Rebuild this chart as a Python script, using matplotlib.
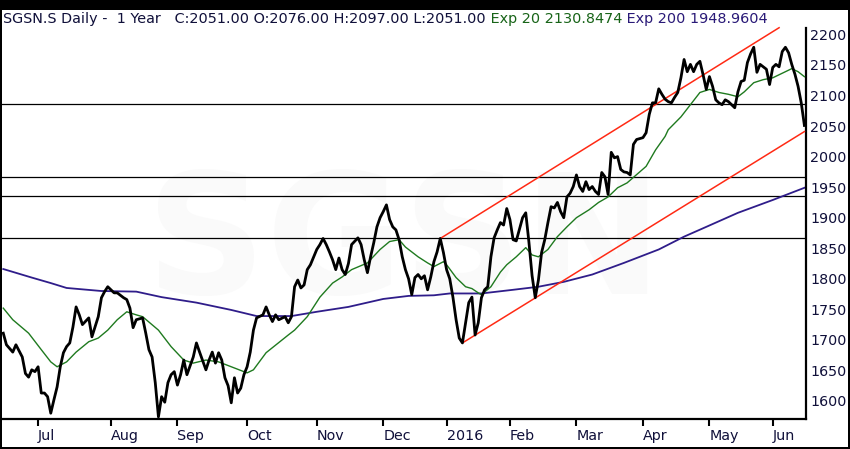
import matplotlib
matplotlib.use("Agg")
import matplotlib.pyplot as plt
import numpy as np
import pandas as pd
from matplotlib.patches import Rectangle

# SIX exchange calendar for the chart year (holidays skipped on the axis)
holidays = ["2015-12-24", "2015-12-25", "2015-12-31", "2016-01-01",
            "2016-03-25", "2016-03-28", "2016-05-05", "2016-05-16"]
sessions = pd.bdate_range("2015-06-16", "2016-06-15")
sessions = sessions[~sessions.isin(pd.to_datetime(holidays))]

# daily close (session number since 16 Jun 2015)
close_session = [0, 1, 3, 4, 6, 7, 8, 9, 10, 11,
                 12, 13, 14, 15, 16, 17, 18, 19, 20, 21,
                 22, 23, 24, 25, 27, 28, 30, 31, 32, 33,
                 35, 36, 38, 39, 40, 41, 42, 44, 45, 46,
                 47, 48, 49, 50, 51, 52, 53, 54, 55, 56,
                 57, 58, 60, 61, 62, 64, 65, 66, 67, 68,
                 69, 70, 71, 72, 73, 74, 75, 76, 77, 78,
                 79, 80, 82, 83, 84, 85, 86, 87, 89, 90,
                 91, 92, 93, 94, 95, 96, 97, 99, 100, 101,
                 102, 103, 104, 105, 106, 107, 108, 109, 110, 112,
                 113, 114, 115, 116, 117, 118, 119, 120, 121, 122,
                 123, 124, 125, 126, 127, 128, 129, 130, 131, 132,
                 133, 134, 135, 136, 137, 138, 139, 140, 141, 142,
                 143, 144, 145, 146, 147, 148, 149, 150, 151, 152,
                 153, 154, 155, 156, 157, 158, 159, 160, 161, 162,
                 164, 165, 166, 167, 168, 169, 170, 171, 172, 173,
                 174, 175, 176, 177, 178, 179, 180, 181, 182, 183,
                 184, 185, 186, 187, 188, 189, 190, 191, 192, 193,
                 194, 195, 196, 197, 198, 199, 200, 202, 203, 204,
                 205, 206, 207, 208, 209, 210, 211, 212, 213, 214,
                 215, 216, 217, 218, 219, 220, 221, 222, 223, 224,
                 225, 226, 227, 228, 229, 231, 232, 233, 234, 235,
                 236, 237, 238, 239, 240, 241, 242, 243, 244, 245,
                 246, 247, 248, 249, 250, 251, 252, 253]
close = [1711, 1692, 1680, 1692, 1672, 1645, 1639, 1651, 1648, 1656,
         1613, 1613, 1607, 1580, 1602, 1623, 1656, 1679, 1689, 1695,
         1721, 1754, 1741, 1725, 1736, 1705, 1738, 1769, 1779, 1787,
         1777, 1777, 1769, 1766, 1752, 1720, 1733, 1736, 1711, 1684,
         1672, 1630, 1574, 1607, 1598, 1630, 1643, 1648, 1626, 1643,
         1667, 1643, 1672, 1695, 1680, 1651, 1667, 1680, 1662, 1679,
         1667, 1638, 1625, 1597, 1638, 1613, 1621, 1643, 1656, 1680,
         1716, 1736, 1741, 1754, 1741, 1730, 1741, 1733, 1738, 1728,
         1738, 1787, 1798, 1785, 1790, 1815, 1823, 1848, 1856, 1866,
         1856, 1844, 1831, 1815, 1834, 1815, 1807, 1825, 1856, 1867,
         1856, 1831, 1810, 1836, 1859, 1885, 1900, 1910, 1921, 1897,
         1885, 1880, 1864, 1836, 1815, 1800, 1774, 1802, 1807, 1800,
         1805, 1782, 1803, 1828, 1844, 1866, 1843, 1815, 1800, 1770,
         1733, 1703, 1695, 1728, 1761, 1770, 1708, 1728, 1769, 1782,
         1787, 1836, 1867, 1880, 1892, 1888, 1915, 1897, 1864, 1862,
         1900, 1908, 1860, 1805, 1769, 1798, 1843, 1864, 1892, 1918,
         1916, 1925, 1910, 1900, 1934, 1940, 1951, 1970, 1951, 1943,
         1959, 1946, 1951, 1943, 1938, 1974, 1967, 1938, 2007, 1998,
         2000, 1979, 1975, 1974, 1970, 2020, 2028, 2031, 2039, 2069,
         2088, 2088, 2111, 2102, 2094, 2090, 2088, 2097, 2105, 2129,
         2159, 2139, 2151, 2139, 2151, 2156, 2134, 2110, 2131, 2115,
         2093, 2088, 2085, 2093, 2090, 2080, 2106, 2123, 2125, 2154,
         2168, 2179, 2138, 2151, 2147, 2143, 2118, 2146, 2151, 2147,
         2172, 2179, 2170, 2151, 2135, 2115, 2088, 2051]

# 20-day exponential average
ema20_session = [0, 3, 8, 12, 15, 17, 20, 23, 27, 30,
                 33, 36, 39, 42, 44, 49, 53, 57, 60, 64,
                 68, 73, 77, 79, 83, 90, 92, 96, 100, 104,
                 107, 110, 115, 119, 122, 125, 127, 131, 134, 136,
                 139, 140, 143, 146, 148, 150, 151, 154, 157, 159,
                 162, 165, 167, 169, 172, 175, 178, 181, 185, 188,
                 191, 194, 197, 199, 203, 206, 209, 210, 214, 217,
                 220, 223, 226, 229, 232, 234, 237, 240, 243, 245,
                 247, 249, 251, 253]
ema20 = [1752, 1733, 1711, 1684, 1664, 1656, 1664, 1680, 1697, 1703,
         1716, 1733, 1746, 1741, 1738, 1716, 1689, 1667, 1662, 1667,
         1664, 1654, 1646, 1651, 1679, 1708, 1716, 1738, 1770, 1793,
         1803, 1815, 1826, 1848, 1861, 1864, 1852, 1836, 1826, 1820,
         1828, 1823, 1802, 1787, 1784, 1777, 1774, 1787, 1811, 1823,
         1836, 1851, 1839, 1836, 1848, 1869, 1885, 1900, 1913, 1925,
         1934, 1949, 1957, 1966, 1984, 2011, 2033, 2044, 2065, 2085,
         2105, 2110, 2105, 2102, 2098, 2106, 2121, 2126, 2129, 2134,
         2139, 2144, 2139, 2130.85]

# 200-day exponential average
ema200_session = [0, 9, 15, 20, 31, 42, 50, 61, 72, 80,
                  91, 99, 109, 120, 128, 136, 141, 151, 161, 169,
                  177, 186, 196, 207, 215, 222, 232, 243, 253]
ema200 = [1816, 1802, 1793, 1785, 1780, 1779, 1770, 1761, 1749, 1739,
          1739, 1746, 1754, 1767, 1772, 1773, 1776, 1776, 1782, 1787,
          1795, 1807, 1826, 1848, 1869, 1885, 1908, 1929, 1948.96]

# rising channel (two parallel trend lines)
channel_top_session = [138, 245]
channel_top = [1866, 2211]
channel_bottom_session = [145, 253]
channel_bottom = [1695, 2041]

# horizontal support / resistance levels
levels = [1867, 1936, 1967, 2086]

y_ticks = list(range(1600, 2201, 50))

title_main = "SGSN.S Daily -  1 Year   C:2051.00 O:2076.00 H:2097.00 L:2051.00"
title_ema20 = " Exp 20 2130.8474"
title_ema200 = " Exp 200 1948.9604"

navy = "#10103a"
green = "#1f7a1f"
purple = "#2f1d8a"
red = "#ff2a14"

fig = plt.figure(figsize=(8.5, 4.49), dpi=100, facecolor="black")
fig.add_artist(Rectangle((2 / 850, 2 / 449), 846 / 850, 437 / 449, transform=fig.transFigure,
                         facecolor="white", edgecolor="none", zorder=0))
ax = fig.add_axes([2 / 850, 30 / 449, 804 / 850, 409 / 449])
ax.set_facecolor("white")

# faint watermark
ax.text(0.5, 0.42, "SGSN", transform=ax.transAxes, ha="center", va="center",
        fontsize=120, fontweight="bold", color="#fafafa", zorder=0)

for lv in levels:
    ax.axhline(lv, color="black", lw=0.9, zorder=1)

ax.plot(ema200_session, ema200, color=purple, lw=1.3, zorder=2)
ax.plot(ema20_session, ema20, color=green, lw=1.0, zorder=3)
ax.plot(channel_top_session, channel_top, color=red, lw=1.1, zorder=4)
ax.plot(channel_bottom_session, channel_bottom, color=red, lw=1.1, zorder=4)
ax.plot(close_session, close, color="black", lw=2.0, zorder=5, solid_joinstyle="round")

ax.set_xlim(-0.4, 253.5)
ax.set_ylim(1570.5, 2240)

# month ticks at the first session of each month
months = sessions.to_period("M")
first = np.where(months[1:] != months[:-1])[0] + 1
month_labels = [str(d.year) if d.month == 1 else d.strftime("%b") for d in sessions[first]]
ax.set_xticks(first)
ax.set_xticklabels(month_labels, ha="left")
ax.tick_params(axis="x", direction="out", length=5, width=1.5, pad=2,
               labelsize=10.3, labelcolor=navy, color="black")

ax.yaxis.tick_right()
ax.set_yticks(y_ticks)
ax.tick_params(axis="y", length=0, pad=3, labelsize=10.3, labelcolor=navy)

for side in ["left", "top"]:
    ax.spines[side].set_visible(False)
ax.spines["right"].set_linewidth(1.6)
ax.spines["right"].set_bounds(1570.5, 2211)
ax.spines["bottom"].set_linewidth(1.6)

t1 = fig.text(3 / 850, 1 - 18.5 / 449, title_main, ha="left", va="center",
              fontsize=10.4, color=navy)
t2 = ax.annotate(title_ema20, xy=(1, 0), xycoords=t1, ha="left", va="bottom",
                 fontsize=10.4, color="#186418", annotation_clip=False)
ax.annotate(title_ema200, xy=(1, 0), xycoords=t2, ha="left", va="bottom",
            fontsize=10.4, color="#2a1a78", annotation_clip=False)

fig.savefig("out.png", dpi=100, facecolor="black")
